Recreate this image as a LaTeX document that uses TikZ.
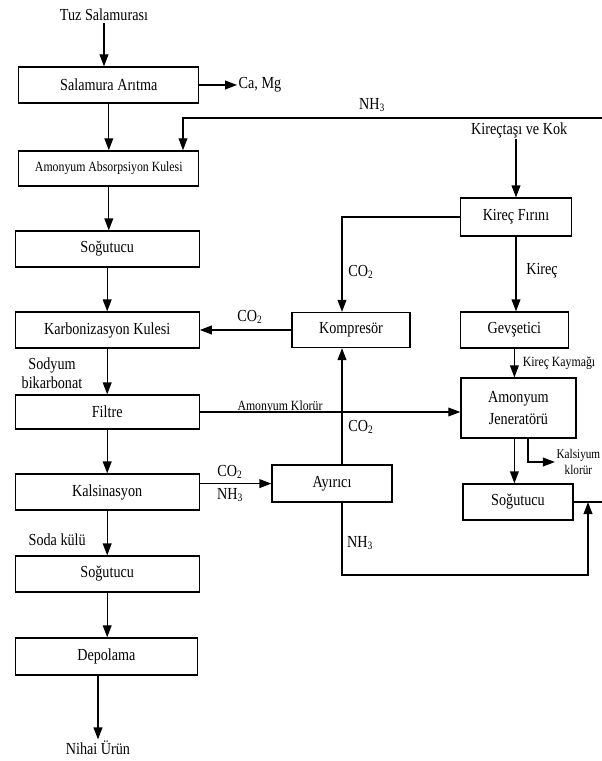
\documentclass[tikz,border=0pt]{standalone}
\usepackage{fontspec}
\setmainfont{Liberation Serif}[FakeStretch=0.84]
\usepackage{tikz}
\usetikzlibrary{arrows.meta}

\tikzset{
	kutu/.style={draw, line width=0.9pt, minimum height=0.9cm, align=center},
	solkutu/.style={kutu, minimum width=4.6cm},
	yazi/.style={align=center, inner sep=1pt},
	kucuk/.style={font=\fontsize{10}{12}\selectfont},
	ok/.style={-{Triangle[length=3mm,width=2.2mm]}, line width=0.9pt},
	hat/.style={line width=0.9pt}
}

\begin{document}
\begin{tikzpicture}[font=\fontsize{12}{14}\selectfont]
		\useasboundingbox (0,0) rectangle (15.05,-19.025);

		\node[yazi] (tuz) at (2.6,-0.375) {Tuz Salamurası};
		\node[solkutu, minimum width=4.5cm] (salamura) at (2.72,-2.125) {Salamura Arıtma};
		\node[yazi] (camg) at (6.5,-2.125) {Ca, Mg};
		\node[solkutu, minimum width=4.5cm, minimum height=0.875cm, kucuk] (absorp) at (2.72,-4.21) {Amonyum Absorpsiyon Kulesi};
		\node[solkutu] (sog1) at (2.68,-6.225) {Soğutucu};
		\node[solkutu] (karbon) at (2.68,-8.25) {Karbonizasyon Kulesi};
		\node[solkutu, minimum height=0.85cm] (filtre) at (2.68,-10.3) {Filtre};
		\node[solkutu] (kalsin) at (2.68,-12.3) {Kalsinasyon};
		\node[solkutu] (sog2) at (2.68,-14.35) {Soğutucu};
		\node[solkutu, minimum width=4.55cm, minimum height=0.925cm] (depo) at (2.66,-16.41) {Depolama};
		\node[yazi] (nihai) at (2.45,-18.7) {Nihai Ürün};

		\node[kutu, minimum width=2.95cm, minimum height=0.875cm] (kompresor) at (8.775,-8.25) {Kompresör};
		\node[kutu, minimum width=3cm, minimum height=0.925cm] (ayirici) at (8.3,-12.09) {Ayırıcı};

		\node[yazi] (kirectasi) at (12.98,-3.25) {Kireçtaşı ve Kok};
		\node[kutu, minimum width=2.775cm, minimum height=0.95cm] (kirec) at (12.9,-5.425) {Kireç Fırını};
		\node[kutu, minimum width=2.7cm] (gevsetici) at (12.86,-8.25) {Gevşetici};
		\node[kutu, minimum width=2.875cm, minimum height=1.5cm] (jenerator) at (12.96,-10.2) {Amonyum\\[2pt]Jeneratörü};
		\node[kutu, minimum width=2.75cm] (sog3) at (12.95,-12.55) {Soğutucu};

		\node[yazi] (nh3ust) at (9.3,-2.625) {NH\textsubscript{3}};
		\node[yazi] (co2ust) at (9.025,-6.8) {CO\textsubscript{2}};
		\node[yazi] (kirecyazi) at (13.55,-6.775) {Kireç};
		\node[yazi] (co2sol) at (6.25,-7.925) {CO\textsubscript{2}};
		\node[yazi] (sodyum) at (1.3,-9.33) {Sodyum\\bikarbonat};
		\node[yazi, kucuk] (kaymak) at (13.975,-9.075) {Kireç Kaymağı};
		\node[yazi, kucuk] (klorur) at (7.0,-10.175) {Amonyum Klorür};
		\node[yazi] (co2orta) at (9.025,-10.675) {CO\textsubscript{2}};
		\node[yazi] (co2alt) at (5.75,-11.8) {CO\textsubscript{2}};
		\node[yazi] (nh3orta) at (5.75,-12.375) {NH\textsubscript{3}};
		\node[yazi, font=\fontsize{9.5}{11.5}\selectfont] (kalsiyum) at (14.46,-11.55) {Kalsiyum\\klorür};
		\node[yazi] (nh3alt) at (9.0,-13.575) {NH\textsubscript{3}};
		\node[yazi] (soda) at (1.43,-13.5) {Soda külü};

		\coordinate (orta) at (8.55,0);
		\coordinate (nhx) at (4.575,0);
		\coordinate (kalsx) at (13.2,0);
		\coordinate (nhsag) at (15.05,-2.95);
		\coordinate (donus) at (14.7,-14.375);
		\coordinate (sagkenar) at (15.05,0);

		\draw[ok] (tuz.south) -- (tuz.south |- salamura.north);
		\draw[ok] (salamura.east) -- (camg.west);
		\draw[ok] (salamura) -- (absorp);
		\draw[ok] (absorp.south) -- (absorp.south |- sog1.north);
		\draw[ok] (sog1) -- (karbon);
		\draw[ok] (karbon) -- (filtre);
		\draw[ok] (filtre) -- (kalsin);
		\draw[ok] (kalsin) -- (sog2);
		\draw[ok] (sog2.south) -- (sog2.south |- depo.north);
		\draw[ok] (nihai.north |- depo.south) -- (nihai.north);

		\draw[ok] (nhsag) -| (absorp.north -| nhx);
		\draw[ok] (kirectasi.south -| kirec.north) -- (kirec.north);
		\draw[ok] (kirec.west) -| (kompresor.north -| orta);
		\draw[ok] (kompresor.west) -- (karbon.east);
		\draw[ok] (kirec.south) -- (kirec.south |- gevsetici.north);
		\draw[ok] (gevsetici.south) -- (gevsetici.south |- jenerator.north);
		\draw[ok] (filtre.east) -- (filtre.east -| jenerator.west);
		\draw[ok] (ayirici.north -| orta) -- (kompresor.south -| orta);
		\draw[ok] (kalsin.east |- ayirici.west) -- (ayirici.west);
		\draw[ok] (jenerator.south -| gevsetici.south) -- (sog3.north -| gevsetici.south);
		\draw[ok] (jenerator.south -| kalsx) |- (kalsiyum.west);
		\draw[hat] (sog3.east) -- (sog3.east -| sagkenar);
		\draw[ok] (ayirici.south -| orta) |- (donus) -- (sog3.east -| donus);
	\end{tikzpicture}
\end{document}
